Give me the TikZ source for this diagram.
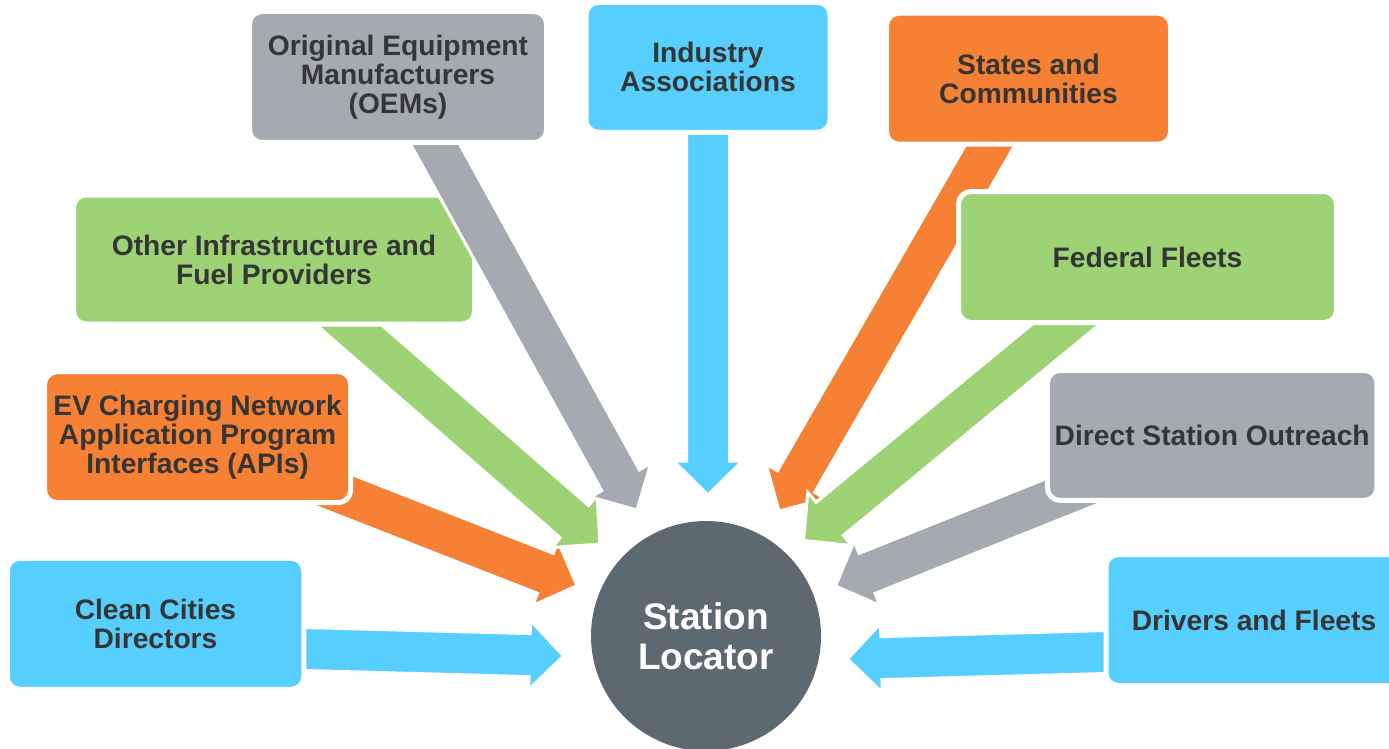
\documentclass[tikz,border=0pt]{standalone}
\usepackage{fontspec}
\setmainfont{Liberation Sans}
\usetikzlibrary{calc}

\definecolor{cgray}{HTML}{A5AAB0}
\definecolor{cblue}{HTML}{57CFFE}
\definecolor{corange}{HTML}{F68033}
\definecolor{cgreen}{HTML}{9DD374}
\definecolor{cdark}{HTML}{5D6971}
\definecolor{ctext}{HTML}{353535}

\pgfdeclarelayer{arrowsbelow}
\pgfdeclarelayer{boxesbelow}
\pgfdeclarelayer{arrowsabove}
\pgfsetlayers{arrowsbelow,boxesbelow,arrowsabove,main}

% block arrow: #1 fill colour, #2 tail point, #3 tip point
\newcommand\flowarrow[3]{%
  \filldraw[fill=#1, arrowedge]
    ($(#2)!21.5pt!90:(#3)$)
    -- ($(#3)!34pt!(#2)!21.5pt!90:(#3)$)
    -- ($(#3)!34pt!(#2)!34.5pt!90:(#3)$)
    -- (#3)
    -- ($(#3)!34pt!(#2)!34.5pt!-90:(#3)$)
    -- ($(#3)!34pt!(#2)!21.5pt!-90:(#3)$)
    -- ($(#2)!21.5pt!-90:(#3)$) -- cycle;}

\begin{document}
\begin{tikzpicture}[x=1pt,y=-1pt,
  box/.style={draw=white, line width=5pt, rounded corners=12.5pt,
    inner sep=0pt, align=center, text=ctext,
    minimum height=131pt,
    font=\fontsize{28.2}{29}\selectfont\bfseries},
  hub/.style={circle, fill=cdark, minimum size=230pt, inner sep=0pt,
    align=center, text=white,
    font=\fontsize{37}{40}\selectfont\bfseries},
  arrowedge/.style={draw=white, line width=3pt, line join=miter}]

\useasboundingbox (0,0) rectangle (1389,749);

% source boxes
\begin{pgfonlayer}{boxesbelow}
  \node[box, fill=cgreen, minimum width=401pt, minimum height=129pt] (other) at (274,259.5)
    {Other Infrastructure and\\Fuel Providers};
  \node[box, fill=corange, minimum width=306pt] (ev) at (197.6,437.2)
    {EV Charging Network\\Application Program\\Interfaces (APIs)};
  \node[box, fill=cblue, minimum width=296.5pt] (clean) at (155.5,623.8)
    {Clean Cities\\Directors};
  \node[box, fill=cblue, minimum width=244pt, minimum height=130pt] (ind) at (708,67.3)
    {Industry\\Associations};
  \node[box, fill=cgreen, minimum width=378pt] (fed) at (1147.5,257)
    {Federal Fleets};
  \node[box, fill=cgray, minimum width=329.5pt, minimum height=130pt] (direct) at (1212.2,435.4)
    {Direct Station Outreach};
  \node[box, fill=cblue, minimum width=296pt] (drivers) at (1254,620)
    {Drivers and Fleets};
\end{pgfonlayer}

\node[box, fill=cgray, minimum width=297pt] (oem) at (398,77)
  {Original Equipment\\Manufacturers\\(OEMs)};
\node[box, fill=corange, minimum width=284pt] (states) at (1028.5,78.7)
  {States and\\Communities};

% central hub
\node[hub] (loc) at (706,636) {Station\\Locator};

% arrow tips and shifted tails
\coordinate (tOEM)     at (637,510);
\coordinate (tInd)     at (708,495);
\coordinate (tStates)  at (779,511);
\coordinate (tOther)   at (600,544);
\coordinate (tFed)     at (803.5,540.5);
\coordinate (tEV)      at (577,585.7);
\coordinate (tDirect)  at (835.5,586);
\coordinate (tClean)   at (563.6,656);
\coordinate (tDrivers) at (847.4,659);
\coordinate (sClean)   at (155.5,645);
\coordinate (sDrivers) at (1254,648);

\begin{pgfonlayer}{arrowsbelow}
  \flowarrow{corange}{ev.center}{tEV}
  \flowarrow{cgreen}{other.center}{tOther}
  \flowarrow{corange}{states.center}{tStates}
  \flowarrow{cgreen}{fed.center}{tFed}
  \flowarrow{cgray}{direct.center}{tDirect}
  \flowarrow{cblue}{ind.center}{tInd}
  \flowarrow{cblue}{sClean}{tClean}
  \flowarrow{cblue}{sDrivers}{tDrivers}
\end{pgfonlayer}

\begin{pgfonlayer}{arrowsabove}
  \flowarrow{cgray}{oem.center}{tOEM}
\end{pgfonlayer}

\end{tikzpicture}
\end{document}
